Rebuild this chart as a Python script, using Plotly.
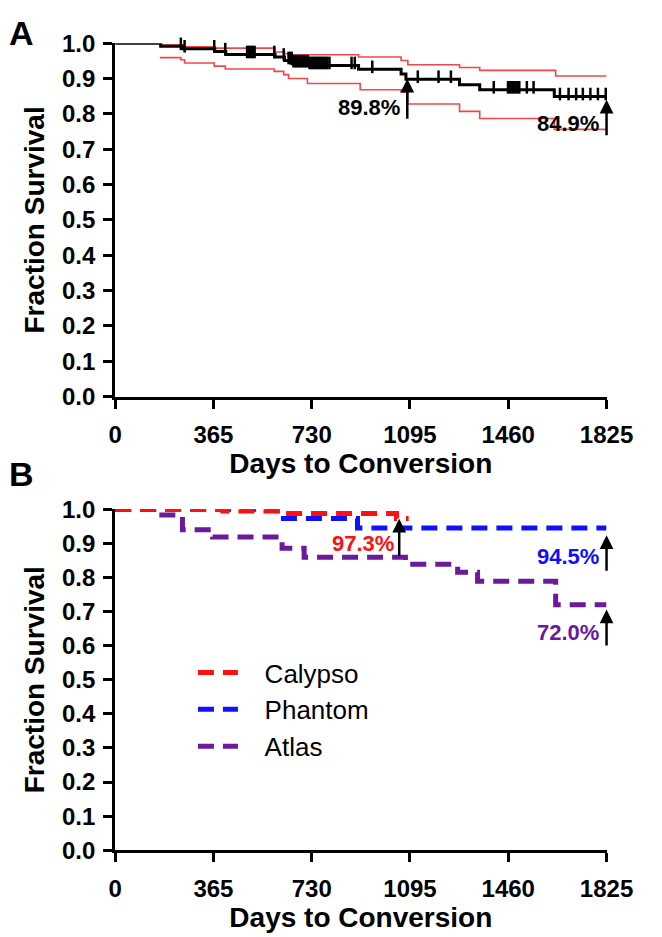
import plotly.graph_objects as go

# ---------------- Panel A data ----------------
a_days = [0, 169, 253, 370, 411, 594, 629, 657, 717, 904, 1062, 1080, 1279, 1354, 1631, 1825]
a_surv = [1.0, 0.991, 0.984, 0.976, 0.968, 0.961, 0.951, 0.942, 0.937, 0.926, 0.913, 0.898, 0.882, 0.868, 0.849, 0.849]

a_up_days = [166, 253, 370, 594, 629, 657, 904, 1062, 1087, 1279, 1354, 1636, 1825]
a_up_surv = [0.995, 0.990, 0.986, 0.975, 0.970, 0.967, 0.961, 0.951, 0.939, 0.931, 0.923, 0.907, 0.907]

a_lo_days = [166, 244, 258, 368, 409, 591, 626, 644, 714, 910, 1062, 1087, 1279, 1354, 1631, 1825]
a_lo_surv = [0.959, 0.953, 0.944, 0.935, 0.927, 0.920, 0.911, 0.900, 0.886, 0.868, 0.862, 0.828, 0.807, 0.787, 0.756, 0.756]

a_censor = [166, 244, 258, 368, 409, 490, 497, 504, 511, 518, 591, 626, 644, 650, 656, 662, 668,
            674, 680, 686, 692, 698, 704, 710, 716, 722, 728, 734, 740, 746, 752, 758, 764, 770,
            776, 782, 788, 796, 878, 890, 955, 1124, 1201, 1247, 1406, 1459, 1466, 1473, 1480,
            1487, 1494, 1501, 1529, 1554, 1652, 1684, 1712, 1737, 1765, 1793, 1822]

# ---------------- Panel B data ----------------
cal_days = [0, 400, 620, 1045, 1090]
cal_surv = [1.0, 0.995, 0.988, 0.973, 0.973]

pha_days = [0, 602, 900, 1825]
pha_surv = [1.0, 0.973, 0.945, 0.945]

atl_days = [0, 162, 250, 362, 620, 702, 1078, 1272, 1346, 1636, 1825]
atl_surv = [1.0, 0.983, 0.940, 0.919, 0.886, 0.859, 0.839, 0.815, 0.789, 0.720, 0.720]

x_ticks = [0, 365, 730, 1095, 1460, 1825]
y_ticks = [0.0, 0.1, 0.2, 0.3, 0.4, 0.5, 0.6, 0.7, 0.8, 0.9, 1.0]

# annotation labels: (day, y, text, color)
a_labels = [(1066, 0.819, "89.8%", "black"), (1803, 0.772, "84.9%", "black")]
b_labels = [(1043, 0.900, "97.3%", "#ff1010"), (1803, 0.863, "94.5%", "#1010ff"),
            (1803, 0.639, "72.0%", "#6a1a9a")]
# arrows: (day, tail, tip)
a_arrows = [(1085, 0.782, 0.899), (1825, 0.735, 0.840)]
b_arrows = [(1055, 0.858, 0.972), (1825, 0.815, 0.924), (1825, 0.596, 0.706)]


def step_val(days, surv, d):
    v = surv[0]
    for dd, s in zip(days, surv):
        if dd <= d:
            v = s
    return v


FONT = "Liberation Sans, Arial, sans-serif"
RED_CI = "#f04848"
NB = "\u00a0\u00a0\u00a0"

fig = go.Figure()

# Panel A
fig.add_trace(go.Scatter(x=a_up_days, y=a_up_surv, mode="lines", line=dict(shape="hv", color=RED_CI, width=1.6),
                         xaxis="x", yaxis="y", showlegend=False, cliponaxis=False))
fig.add_trace(go.Scatter(x=a_lo_days, y=a_lo_surv, mode="lines", line=dict(shape="hv", color=RED_CI, width=1.6),
                         xaxis="x", yaxis="y", showlegend=False, cliponaxis=False))
fig.add_trace(go.Scatter(x=a_days, y=a_surv, mode="lines", line=dict(shape="hv", color="black", width=3),
                         xaxis="x", yaxis="y", showlegend=False, cliponaxis=False))
fig.add_trace(go.Scatter(x=a_censor, y=[step_val(a_days, a_surv, d) + 0.007 for d in a_censor], mode="markers",
                         marker=dict(symbol="line-ns", size=9, line=dict(color="black", width=2.5)),
                         xaxis="x", yaxis="y", showlegend=False, cliponaxis=False))

# Panel B
DASH = "16px,9px"
fig.add_trace(go.Scatter(x=atl_days, y=atl_surv, mode="lines", name=NB + "Atlas", legendgroup="c",
                         line=dict(shape="hv", color="#6a1a9a", width=5, dash=DASH),
                         xaxis="x2", yaxis="y2", cliponaxis=False, legendrank=3))
fig.add_trace(go.Scatter(x=pha_days, y=pha_surv, mode="lines", name=NB + "Phantom", legendgroup="b",
                         line=dict(shape="hv", color="#1010ff", width=5, dash=DASH),
                         xaxis="x2", yaxis="y2", cliponaxis=False, legendrank=2))
fig.add_trace(go.Scatter(x=cal_days, y=cal_surv, mode="lines", name=NB + "Calypso", legendgroup="a",
                         line=dict(shape="hv", color="#ff1010", width=5, dash=DASH),
                         xaxis="x2", yaxis="y2", cliponaxis=False, legendrank=1))

axis_common = dict(showline=True, linecolor="black", linewidth=3, ticks="outside", ticklen=9,
                   tickwidth=3, tickcolor="black", showgrid=False, zeroline=False,
                   tickfont=dict(family=FONT, size=24, color="black", weight="bold"))
xdom = [114 / 662, 632 / 662]
xa = dict(axis_common, range=[0, 1825], tickvals=x_ticks, ticktext=[str(t) for t in x_ticks],
          domain=xdom, ticklabelstandoff=6,
          title=dict(text="<b>Days to Conversion</b>", font=dict(family=FONT, size=28, color="black"), standoff=2))
ya = dict(axis_common, range=[0, 1.0], tickvals=y_ticks, ticktext=["%.1f" % t for t in y_ticks],
          ticklabelstandoff=3,
          title=dict(text="<b>Fraction Survival</b>", font=dict(family=FONT, size=28, color="black"), standoff=10))

annotations = []
for (d, y, t, c) in a_labels:
    annotations.append(dict(x=d, y=y, xref="x", yref="y", text="<b>%s</b>" % t, showarrow=False,
                            xanchor="right", yanchor="middle", font=dict(family=FONT, size=22, color=c)))
for (d, y, t, c) in b_labels:
    annotations.append(dict(x=d, y=y, xref="x2", yref="y2", text="<b>%s</b>" % t, showarrow=False,
                            xanchor="right", yanchor="middle", font=dict(family=FONT, size=22, color=c)))
for (d, lo, hi) in a_arrows:
    annotations.append(dict(x=d, y=hi, ax=d, ay=lo, xref="x", yref="y", axref="x", ayref="y", text="",
                            showarrow=True, arrowhead=2, arrowsize=1.1, arrowwidth=2.5, arrowcolor="black",
                            standoff=0, startstandoff=0))
for (d, lo, hi) in b_arrows:
    annotations.append(dict(x=d, y=hi, ax=d, ay=lo, xref="x2", yref="y2", axref="x2", ayref="y2", text="",
                            showarrow=True, arrowhead=2, arrowsize=1.1, arrowwidth=2.5, arrowcolor="black",
                            standoff=0, startstandoff=0))
annotations.append(dict(x=15 / 662, y=1 - 20 / 937, xref="paper", yref="paper", text="<b>A</b>", showarrow=False,
                        xanchor="center", yanchor="middle", font=dict(family=FONT, size=34, color="black")))
annotations.append(dict(x=15 / 662, y=1 - 474 / 937, xref="paper", yref="paper", text="<b>B</b>", showarrow=False,
                        xanchor="center", yanchor="middle", font=dict(family=FONT, size=34, color="black")))

fig.update_layout(
    width=662, height=937, margin=dict(l=0, r=0, t=0, b=0),
    paper_bgcolor="white", plot_bgcolor="white",
    xaxis=dict(xa, anchor="y"),
    yaxis=dict(ya, domain=[1 - 394 / 937, 1 - 30 / 937], anchor="x"),
    xaxis2=dict(xa, anchor="y2"),
    yaxis2=dict(ya, domain=[1 - 861 / 937, 1 - 510 / 937], anchor="x2"),
    legend=dict(x=196 / 662, y=1 - 654 / 937, xanchor="left", yanchor="top", bgcolor="rgba(0,0,0,0)",
                font=dict(family=FONT, size=26, color="black"),
                tracegroupgap=0, itemwidth=40),
    annotations=annotations,
)

fig.write_html("out.html")
